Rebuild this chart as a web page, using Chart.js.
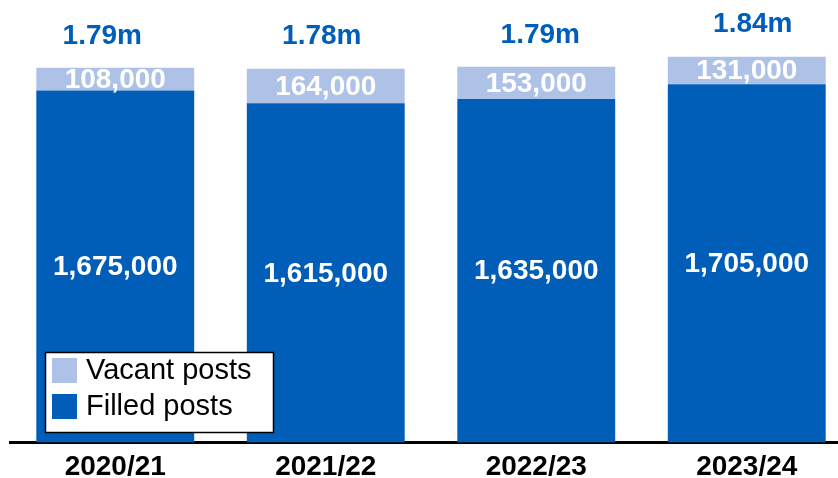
<!DOCTYPE html>
<html>
<head>
<meta charset="utf-8">
<script src="https://cdn.jsdelivr.net/npm/chart.js@4.4.0/dist/chart.umd.min.js"></script>
<style>
  html, body { margin: 0; padding: 0; background: #ffffff; overflow: hidden; }
  #wrap { width: 838px; height: 478px; overflow: hidden; position: relative; }
  #myChart { display: block; }
</style>
</head>
<body>
<div id="wrap">
  <canvas id="myChart" width="852" height="478"></canvas>
</div>
<script>
// data
const years = ['2020/21', '2021/22', '2022/23', '2023/24'];
const filledPosts = [1675000, 1615000, 1635000, 1705000];
const vacantPosts = [108000, 164000, 153000, 131000];
const totalLabels = ['1.79m', '1.78m', '1.79m', '1.84m'];

const blue = '#005eb8';
const lightBlue = '#aec1e6';
const fontName = '"Liberation Sans", Arial, sans-serif';

function fmt(v) {
  return v.toLocaleString('en-GB');
}

// labels inside the bars + total on top
const barLabels = {
  id: 'barLabels',
  afterDatasetsDraw(chart, args, opts) {
    const ctx = chart.ctx;
    ctx.save();
    ctx.textAlign = 'center';
    ctx.textBaseline = 'middle';
    ctx.font = 'bold 28px ' + fontName;
    ctx.fillStyle = '#ffffff';
    chart.data.datasets.forEach(function (ds, di) {
      const meta = chart.getDatasetMeta(di);
      meta.data.forEach(function (bar, i) {
        ctx.fillText(fmt(ds.data[i]), bar.x, (bar.y + bar.base) / 2 + 1);
      });
    });
    // totals
    const top = chart.getDatasetMeta(1).data;
    ctx.fillStyle = blue;
    top.forEach(function (bar, i) {
      ctx.fillText(totalLabels[i], bar.x + opts.nudge[i], bar.y - 32);
    });
    ctx.restore();
  }
};

// legend box sitting inside the plot, bottom left
const boxLegend = {
  id: 'boxLegend',
  afterDraw(chart) {
    const ctx = chart.ctx;
    ctx.save();
    ctx.fillStyle = '#ffffff';
    ctx.fillRect(45, 352, 229, 81);
    ctx.strokeStyle = '#000000';
    ctx.lineWidth = 1.5;
    ctx.strokeRect(45.5, 352.5, 228, 80);
    const items = [chart.data.datasets[1], chart.data.datasets[0]];
    ctx.font = '29px ' + fontName;
    ctx.textAlign = 'left';
    ctx.textBaseline = 'middle';
    items.forEach(function (ds, i) {
      const y = 358 + i * 36;
      ctx.fillStyle = ds.backgroundColor;
      ctx.fillRect(52, y, 25, 25);
      ctx.fillStyle = '#000000';
      ctx.fillText(ds.label, 86, y + 13);
    });
    ctx.restore();
  }
};

const chart = new Chart(document.getElementById('myChart').getContext('2d'), {
  type: 'bar',
  data: {
    labels: years,
    datasets: [
      {
        label: 'Filled posts',
        data: filledPosts,
        backgroundColor: blue,
        borderWidth: 0
      },
      {
        label: 'Vacant posts',
        data: vacantPosts,
        backgroundColor: lightBlue,
        borderWidth: 0
      }
    ]
  },
  options: {
    responsive: false,
    animation: false,
    devicePixelRatio: 1,
    layout: { padding: { left: 10, right: 0, top: 0, bottom: 0 } },
    datasets: {
      bar: { categoryPercentage: 1, barPercentage: 0.75 }
    },
    scales: {
      x: {
        stacked: true,
        grid: { display: false, drawTicks: false },
        border: { display: true, color: '#000000', width: 3 },
        ticks: {
          color: '#000000',
          padding: 12,
          font: { family: fontName, size: 28, weight: 'bold', lineHeight: 0.9 }
        },
        afterFit: function (scale) {
          scale.height = 35.5;
        }
      },
      y: {
        stacked: true,
        display: false,
        min: 0,
        max: 2106000
      }
    },
    plugins: {
      legend: { display: false },
      tooltip: { enabled: false },
      barLabels: { nudge: [-13, -4, 4, 6] }
    }
  },
  plugins: [barLabels, boxLegend]
});
</script>
</body>
</html>
